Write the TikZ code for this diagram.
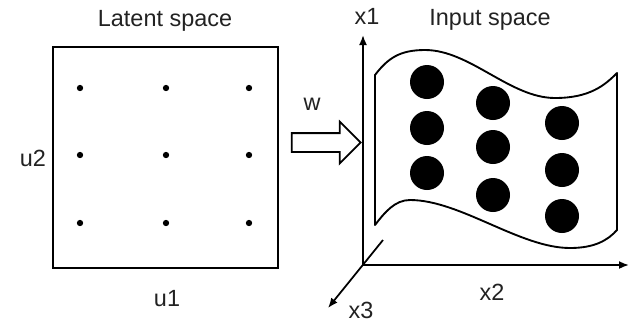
\documentclass[tikz,border=0pt]{standalone}
\usepackage{fontspec}
\setmainfont{Liberation Sans}
\usetikzlibrary{arrows.meta,positioning,shapes.arrows}
\definecolor{labelGray}{HTML}{222222}

\begin{document}
\begin{tikzpicture}[x=0.03cm, y=-0.03cm, font=\fontsize{20}{22}\selectfont,
    lbl/.style={text=labelGray, inner sep=0pt},
    dotsmall/.style={circle, fill=black, inner sep=0pt, minimum size=0.19cm},
    dotbig/.style={circle, fill=black, inner sep=0pt, minimum size=1.02cm},
    axis/.style={-{Latex[length=3mm,width=2.4mm]}, line width=1.5pt}]
    \useasboundingbox (0,0) rectangle (629,324);

    \node[draw, line width=1.8pt, minimum width=6.75cm, minimum height=6.63cm, inner sep=0pt] (latent) at (165.5,157.5) {};
    \node[lbl] (ltitle) at (165,21) {Latent space};
    \node[lbl] (u1) at (167,299) {u1};
    \node[lbl] (u2) at (33,158) {u2};
    \foreach \i/\x in {1/80,2/166,3/249}
        \foreach \j/\y in {1/88,2/155,3/223}
            \node[dotsmall] (s\i\j) at (\x,\y) {};

    \node[single arrow, draw, line width=1.5pt, single arrow head extend=0.345cm, single arrow tip angle=90,
        minimum width=1.2cm, minimum height=2.07cm, inner sep=0.255cm] (map) at (321.5,142.5) {};
    \node[lbl] (w) at (312,104) {w};

    \coordinate (o) at (363,265);
    \coordinate (x1end) at (363,35);
    \coordinate (x2end) at (629,265);
    \coordinate (x3start) at (383,240);
    \coordinate (x3end) at (328,308);
    \draw[axis] (o) -- (x1end);
    \draw[axis] (o) -- (x2end);
    \draw[axis] (x3start) -- (x3end);
    \node[lbl] (x1) at (367,16) {x1};
    \node[lbl] (x2) at (492,292) {x2};
    \node[lbl] (x3) at (361,310) {x3};
    \node[lbl] (ititle) at (490,20) {Input space};

    \draw[line width=1.6pt, line join=round] (375,225) -- (375,75) .. controls (388,58) and (400,50) .. (425,50)
        .. controls (470,50) and (510,98) .. (555,98) .. controls (590,98) and (605,85) .. (617,73)
        -- (617,230) .. controls (608,240) and (595,248) .. (570,248)
        .. controls (520,248) and (460,200) .. (410,200) .. controls (395,200) and (385,212) .. (375,225) -- cycle;

    \foreach \i/\x/\ya/\yb/\yc in {1/427/82/128/173,2/493/103/147/195,3/562/123/170/216} {
        \node[dotbig] (b\i1) at (\x,\ya) {};
        \node[dotbig] (b\i2) at (\x,\yb) {};
        \node[dotbig] (b\i3) at (\x,\yc) {};
    }
\end{tikzpicture}
\end{document}
